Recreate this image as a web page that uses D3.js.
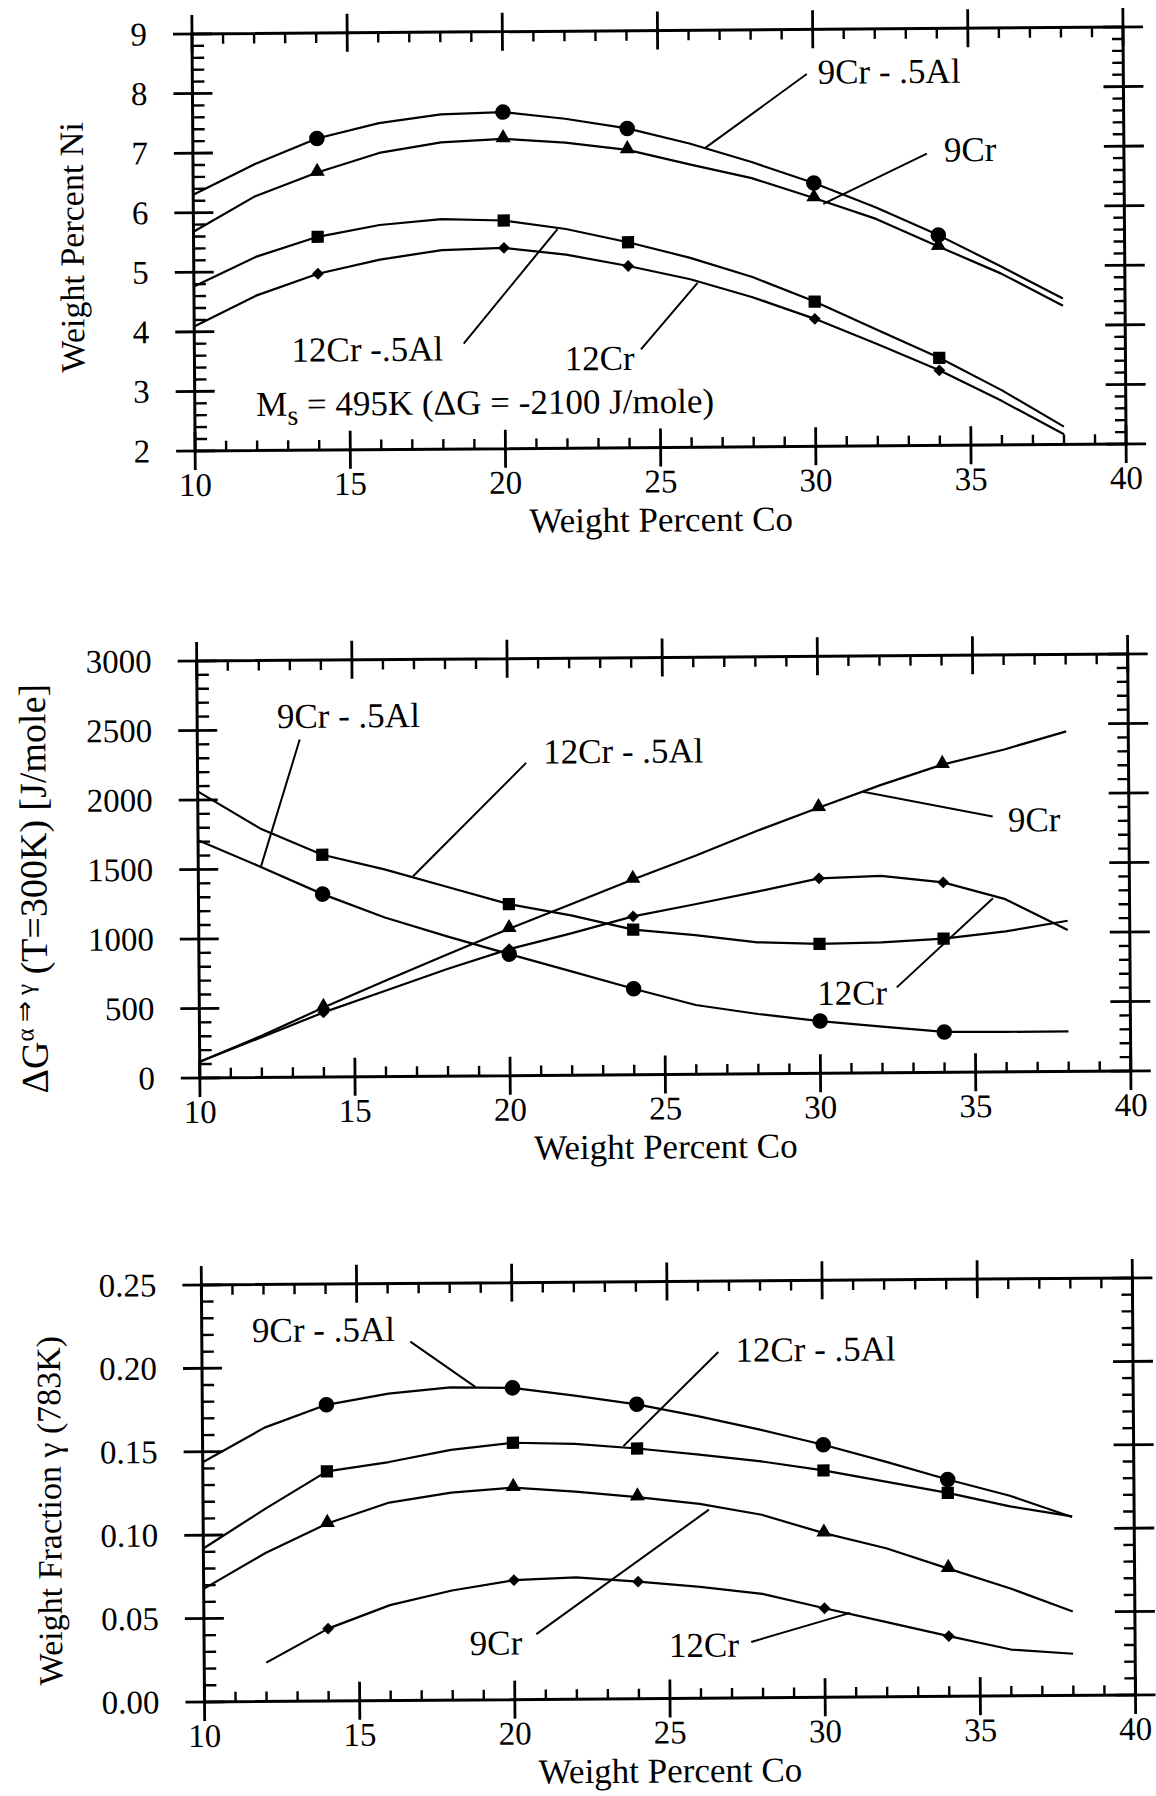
<!DOCTYPE html>
<html>
<head>
<meta charset="utf-8">
<script src="https://cdn.jsdelivr.net/npm/d3@7"></script>
<style>
body { margin: 0; background: #fff; }
text { font-family: "Liberation Serif", "Times New Roman", serif; fill: #000; }
</style>
</head>
<body>
<svg id="chart" width="1156" height="1796"></svg>
<script>
// Co contents (wt%) where the curves were computed
var coX = [10, 12, 14, 16, 18, 20, 22, 24, 26, 28, 30, 32, 34, 36, 38];
var markerX = [14, 20, 24, 30, 34];
var xTicks = [10, 15, 20, 25, 30, 35, 40];

// top panel: wt% Ni giving Ms = 495K
var ni9CrAl  = [6.30, 6.81, 7.23, 7.48, 7.62, 7.65, 7.53, 7.36, 7.10, 6.78, 6.42, 6.00, 5.53, 5.00, 4.45];
var ni9Cr    = [5.68, 6.27, 6.66, 6.98, 7.15, 7.20, 7.13, 7.00, 6.75, 6.51, 6.17, 5.81, 5.34, 4.88, 4.33];
var ni12CrAl = [4.76, 5.25, 5.58, 5.77, 5.86, 5.83, 5.68, 5.45, 5.18, 4.85, 4.43, 3.95, 3.47, 2.92, 2.30];
var ni12Cr   = [4.09, 4.60, 4.96, 5.19, 5.34, 5.37, 5.25, 5.05, 4.82, 4.51, 4.14, 3.71, 3.26, 2.74, 2.17];
var niTicks = [2, 3, 4, 5, 6, 7, 8, 9];

// middle panel: driving force alpha -> gamma at 300K (J/mole)
var dg9CrAl  = [1710, 1517, 1316, 1144, 1005, 874, 747, 618, 498, 430, 376, 333, 291, 288, 289];
var dg12CrAl = [2062, 1792, 1599, 1491, 1362, 1234, 1150, 1044, 1001, 946, 931, 939, 962, 1011, 1084];
var dg9Cr    = [116, 300, 500, 690, 875, 1057, 1230, 1405, 1570, 1746, 1911, 2070, 2214, 2320, 2447];
var dg12Cr   = [116, 290, 465, 617, 771, 910, 1020, 1139, 1223, 1310, 1403, 1417, 1367, 1243, 1017];
var dgTicks = [0, 500, 1000, 1500, 2000, 2500, 3000];

// bottom panel: weight fraction gamma at 783K
var wf9CrAl  = [0.1437, 0.1642, 0.1776, 0.184, 0.1875, 0.1869, 0.182, 0.1765, 0.169, 0.1606, 0.1514, 0.141, 0.130, 0.120, 0.107];
var wf12CrAl = [0.092, 0.1155, 0.1377, 0.143, 0.150, 0.154, 0.153, 0.150, 0.146, 0.1417, 0.136, 0.129, 0.122, 0.1136, 0.1073];
var wf9Cr    = [0.0678, 0.089, 0.1064, 0.1187, 0.1244, 0.1271, 0.1244, 0.1209, 0.1165, 0.1097, 0.0984, 0.0891, 0.0766, 0.0644, 0.0503];
var wf12Cr   = [null, 0.0233, 0.0434, 0.0572, 0.0657, 0.0716, 0.073, 0.0702, 0.0668, 0.0623, 0.0534, 0.0448, 0.0361, 0.0278, 0.025];
var wfTicks = [0, 0.05, 0.10, 0.15, 0.20, 0.25];

// curve labels, placed in data units: text start, then leader line
var notes1 = [
  {t: "9Cr - .5Al", x: 30.15, y: 8.28, x1: 29.8, y1: 8.25, x2: 26.5, y2: 7.02},
  {t: "9Cr", x: 34.2, y: 6.96, x1: 33.65, y1: 6.90, x2: 30.3, y2: 6.07},
  {t: "12Cr -.5Al", x: 13.13, y: 3.68, x1: 18.68, y1: 3.77, x2: 21.73, y2: 5.68},
  {t: "12Cr", x: 21.93, y: 3.50, x1: 24.39, y1: 3.65, x2: 26.23, y2: 4.76}
];
var notes2 = [
  {t: "9Cr - .5Al", x: 12.57, y: 2596, x1: 13.3, y1: 2429, x2: 12.02, y2: 1517},
  {t: "12Cr - .5Al", x: 21.14, y: 2326, x1: 20.59, y1: 2249, x2: 16.92, y2: 1440},
  {t: "9Cr", x: 36.1, y: 1812, x1: 35.61, y1: 1838, x2: 31.44, y2: 2023},
  {t: "12Cr", x: 29.91, y: 575, x1: 32.48, y1: 614, x2: 35.6, y2: 1250}
];
var notes3 = [
  {t: "9Cr - .5Al", x: 11.62, y: 0.2224, x1: 16.72, y1: 0.2151, x2: 18.81, y2: 0.1875},
  {t: "12Cr - .5Al", x: 27.19, y: 0.2085, x1: 26.64, y1: 0.2075, x2: 23.56, y2: 0.1515},
  {t: "9Cr", x: 18.56, y: 0.0339, x1: 20.71, y1: 0.0392, x2: 26.3, y2: 0.113},
  {t: "12Cr", x: 24.98, y: 0.0317, x1: 27.63, y1: 0.0335, x2: 30.83, y2: 0.0505}
];

var svg = d3.select("#chart");
svg.append("rect").attr("width", 1156).attr("height", 1796).attr("fill", "#fff");

var left = 192, plotW = 931, plotH = 417;
// the scanned page is slightly skewed
var root = svg.append("g").attr("transform", "rotate(-0.43,192,34)");

var x = d3.scaleLinear().domain([10, 40]).range([0, plotW]);

var sym = {
  circle: d3.symbol().type(d3.symbolCircle).size(190),
  square: d3.symbol().type(d3.symbolSquare).size(150),
  triangle: d3.symbol().type(d3.symbolTriangle).size(100),
  diamond: d3.symbol().type(d3.symbolSquare).size(70)
};

var panels = [
  {top: 34, domain: [2, 9], ticks: niTicks, minor: 0.2, fmt: d3.format("d"),
   series: [[ni9CrAl, "circle"], [ni9Cr, "triangle"], [ni12CrAl, "square"], [ni12Cr, "diamond"]],
   notes: notes1, titleOff: -110, titleShift: 4},
  {top: 661, domain: [0, 3000], ticks: dgTicks, minor: 100, fmt: d3.format("d"),
   series: [[dg9CrAl, "circle"], [dg12CrAl, "square"], [dg9Cr, "triangle"], [dg12Cr, "diamond"]],
   notes: notes2, titleOff: -152, titleShift: 18},
  {top: 1285, domain: [0, 0.25], ticks: wfTicks, minor: 0.01, fmt: d3.format(".2f"),
   series: [[wf9CrAl, "circle"], [wf12CrAl, "square"], [wf9Cr, "triangle"], [wf12Cr, "diamond"]],
   notes: notes3, titleOff: -142, titleShift: 16}
];

panels.forEach(function(p, pi) {
  var g = root.append("g").attr("transform", "translate(" + left + "," + p.top + ")");
  var y = d3.scaleLinear().domain(p.domain).range([plotH, 0]);

  // frame
  g.append("rect").attr("width", plotW).attr("height", plotH)
    .attr("fill", "none").attr("stroke", "#000").attr("stroke-width", 3);

  // minor ticks, pointing inwards on all four sides
  var xMinor = d3.range(10, 41).filter(function(v) { return v % 5 != 0; });
  var nMinor = Math.round((p.domain[1] - p.domain[0]) / p.minor);
  var yMinor = d3.range(0, nMinor + 1).filter(function(i) { return i % 5 != 0; })
    .map(function(i) { return p.domain[0] + i * p.minor; });
  var tk = g.append("g").attr("stroke", "#000").attr("stroke-width", 2.4);
  tk.selectAll(".xmb").data(xMinor).enter().append("line")
    .attr("x1", d => x(d)).attr("x2", d => x(d)).attr("y1", plotH).attr("y2", plotH - 10);
  tk.selectAll(".xmt").data(xMinor).enter().append("line")
    .attr("x1", d => x(d)).attr("x2", d => x(d)).attr("y1", 0).attr("y2", 10);
  tk.selectAll(".yml").data(yMinor).enter().append("line")
    .attr("x1", 0).attr("x2", 12).attr("y1", d => y(d)).attr("y2", d => y(d));
  tk.selectAll(".ymr").data(yMinor).enter().append("line")
    .attr("x1", plotW).attr("x2", plotW - 11).attr("y1", d => y(d)).attr("y2", d => y(d));

  // major ticks cross the frame
  var mj = g.append("g").attr("stroke", "#000").attr("stroke-width", 2.8);
  mj.selectAll(".xb").data(xTicks).enter().append("line")
    .attr("x1", d => x(d)).attr("x2", d => x(d)).attr("y1", plotH - 19).attr("y2", plotH + 19);
  mj.selectAll(".xt").data(xTicks).enter().append("line")
    .attr("x1", d => x(d)).attr("x2", d => x(d)).attr("y1", -19).attr("y2", 19);
  mj.selectAll(".yl").data(p.ticks).enter().append("line")
    .attr("x1", -19).attr("x2", 20).attr("y1", d => y(d)).attr("y2", d => y(d));
  mj.selectAll(".yr").data(p.ticks).enter().append("line")
    .attr("x1", plotW - 20).attr("x2", plotW + 20).attr("y1", d => y(d)).attr("y2", d => y(d));

  // tick labels
  g.selectAll(".xl").data(xTicks).enter().append("text")
    .attr("x", d => x(d)).attr("y", plotH + 45).attr("text-anchor", "middle")
    .attr("font-size", 33).text(d => d);
  g.selectAll(".yl").data(p.ticks).enter().append("text")
    .attr("x", -45).attr("y", d => y(d)).attr("text-anchor", "end")
    .attr("dominant-baseline", "central").attr("font-size", 33).text(p.fmt);

  // axis titles
  g.append("text").attr("x", plotW / 2).attr("y", plotH + 84)
    .attr("text-anchor", "middle").attr("font-size", 35).text("Weight Percent Co");
  var yt = g.append("text").attr("text-anchor", "middle")
    .attr("transform", "translate(" + p.titleOff + "," + (plotH / 2 + p.titleShift) + ") rotate(-90)");
  if (pi == 0) {
    yt.attr("font-size", 34).text("Weight Percent Ni");
  } else if (pi == 1) {
    yt.attr("font-size", 38);
    yt.append("tspan").text("\u0394G");
    yt.append("tspan").attr("font-size", 25).attr("dy", -14).text("\u03b1 \u21d2 \u03b3");
    yt.append("tspan").attr("dy", 14).text(" (T=300K) [J/mole]");
  } else {
    yt.attr("font-size", 34).text("Weight Fraction \u03b3 (783K)");
  }

  // curves and symbols
  var line = d3.line()
    .defined(d => d[1] != null)
    .x(d => x(d[0])).y(d => y(d[1]));
  p.series.forEach(function(s) {
    var pts = coX.map(function(c, i) { return [c, s[0][i]]; });
    g.append("path").datum(pts).attr("d", line)
      .attr("fill", "none").attr("stroke", "#000").attr("stroke-width", 2.2)
      .attr("stroke-linejoin", "round");
    var mk = pts.filter(d => markerX.indexOf(d[0]) >= 0 && d[1] != null);
    g.selectAll(null).data(mk).enter().append("path")
      .attr("d", sym[s[1]])
      .attr("transform", function(d) {
        var t = "translate(" + x(d[0]) + "," + y(d[1]) + ")";
        if (s[1] == "diamond") t += " rotate(45)";
        if (s[1] == "triangle") t += " translate(0,-1)";
        return t;
      })
      .attr("fill", "#000");
  });

  // curve labels with leader lines
  g.selectAll(".ld").data(p.notes).enter().append("line")
    .attr("x1", d => x(d.x1)).attr("y1", d => y(d.y1))
    .attr("x2", d => x(d.x2)).attr("y2", d => y(d.y2))
    .attr("stroke", "#000").attr("stroke-width", 2);
  g.selectAll(".nt").data(p.notes).enter().append("text")
    .attr("x", d => x(d.x)).attr("y", d => y(d.y))
    .attr("dominant-baseline", "central").attr("font-size", 35).text(d => d.t);

  if (pi == 0) {
    var ms = g.append("text").attr("x", x(11.98)).attr("y", y(2.78))
      .attr("dominant-baseline", "central").attr("font-size", 35);
    ms.append("tspan").text("M");
    ms.append("tspan").attr("font-size", 28).attr("dy", 11).text("s");
    ms.append("tspan").attr("dy", -11).text(" = 495K (\u0394G = -2100 J/mole)");
  }
});
</script>
</body>
</html>
